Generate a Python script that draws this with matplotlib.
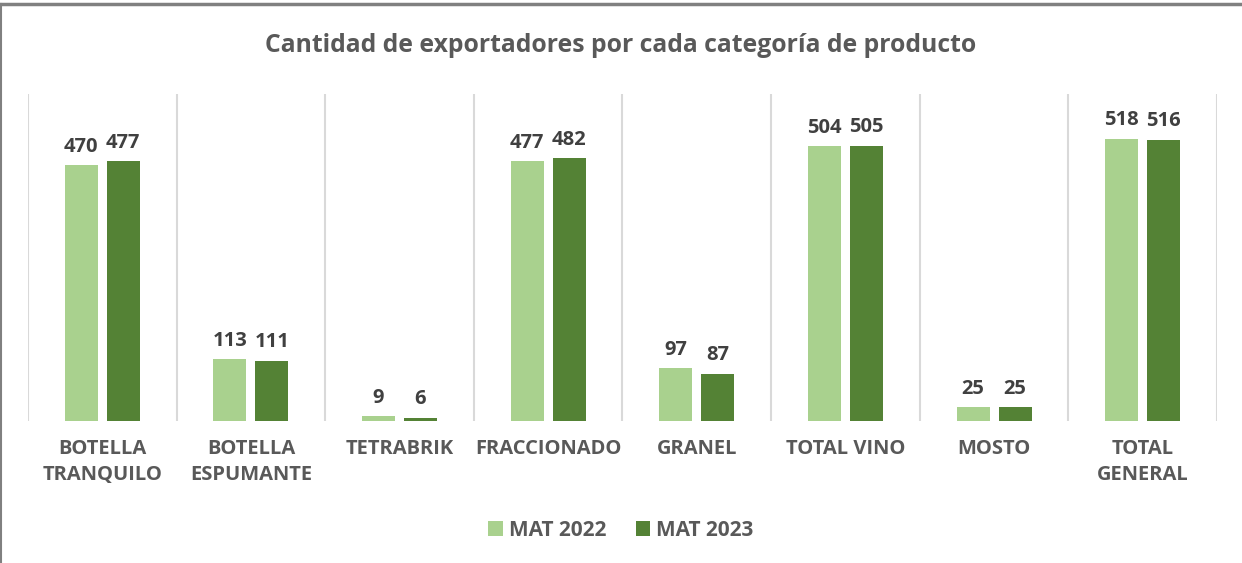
import matplotlib
matplotlib.use("Agg")
import matplotlib.pyplot as plt
from matplotlib.lines import Line2D
import numpy as np

plt.rcParams['font.family'] = ['Open Sans', 'DejaVu Sans']

categorias = ["BOTELLA\nTRANQUILO", "BOTELLA\nESPUMANTE", "TETRABRIK", "FRACCIONADO",
              "GRANEL", "TOTAL VINO", "MOSTO", "TOTAL\nGENERAL"]
mat2022 = [470, 113, 9, 477, 97, 504, 25, 518]
mat2023 = [477, 111, 6, 482, 87, 505, 25, 516]

color22 = "#a9d18e"
color23 = "#548235"
gris = "#595959"

fig = plt.figure(figsize=(12.42, 5.63), dpi=100)
ax = fig.add_axes([0.0225, 0.2522, 0.9574, 0.5808])

x = np.arange(len(categorias))
ancho = 0.222
off = 0.141
b1 = ax.bar(x - off, mat2022, ancho, color=color22, label="MAT 2022")
b2 = ax.bar(x + off, mat2023, ancho, color=color23, label="MAT 2023")

for barras, vals in [(b1, mat2022), (b2, mat2023)]:
    for b, v in zip(barras, vals):
        ax.annotate(str(v), (b.get_x() + b.get_width() / 2, b.get_height()),
                    xytext=(0, 6), textcoords="offset points", ha="center", va="bottom",
                    fontsize=14.5, fontweight="bold", color="#404040")

ax.set_xlim(-0.5, len(categorias) - 0.5)
ax.set_ylim(0, 600)
for g in np.arange(-0.5, len(categorias), 1.0):
    ax.axvline(g, color="#d9d9d9", lw=1.5, zorder=0)

ax.set_xticks(x)
ax.set_xticklabels(categorias, fontsize=14.5, fontweight="bold", color=gris, linespacing=1.4)
ax.tick_params(axis="x", length=0, pad=13)
ax.set_yticks([])
for s in ax.spines.values():
    s.set_visible(False)

fig.text(0.5, 0.92, "Cantidad de exportadores por cada categoría de producto",
         ha="center", va="center", fontsize=17.8, fontweight="bold", color=gris)

fig.legend(handles=[b1, b2], loc="center", bbox_to_anchor=(0.5, 0.058), ncol=2,
           frameon=False, prop={"weight": "bold", "size": 15},
           handlelength=0.7, handleheight=0.7, handletextpad=0.3, columnspacing=1.4,
           labelcolor=gris)

# bordes del recuadro
fig.add_artist(Line2D([0, 1], [0.993, 0.993], color="#808080", lw=2.5, transform=fig.transFigure))
fig.add_artist(Line2D([0.001, 0.001], [0, 0.993], color="#808080", lw=1.5, transform=fig.transFigure))

fig.savefig("out.png", dpi=100)
